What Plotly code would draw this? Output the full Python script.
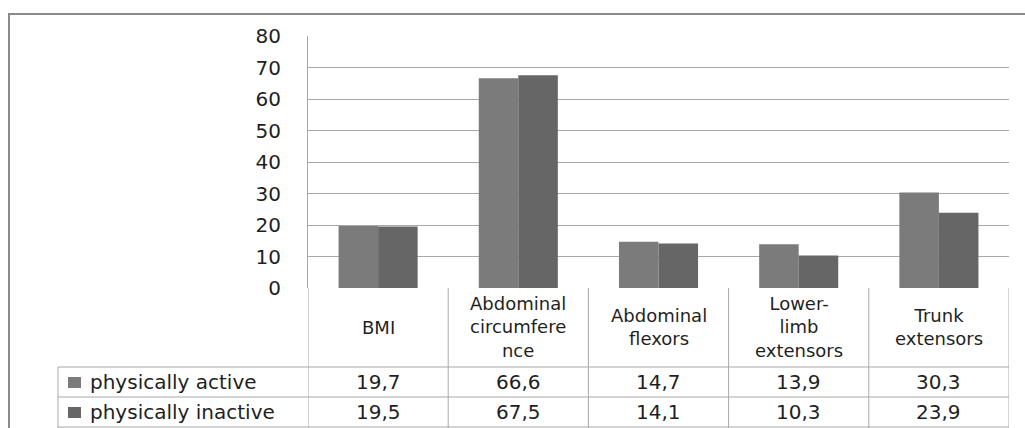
import plotly.graph_objects as go

categories = ["BMI", "Abdominal<br>circumfere<br>nce", "Abdominal<br>flexors", "Lower-<br>limb<br>extensors", "Trunk<br>extensors"]
series_names = ["physically active", "physically inactive"]
active = [19.7, 66.6, 14.7, 13.9, 30.3]
inactive = [19.5, 67.5, 14.1, 10.3, 23.9]
active_labels = ["19,7", "66,6", "14,7", "13,9", "30,3"]
inactive_labels = ["19,5", "67,5", "14,1", "10,3", "23,9"]
y_ticks = [0, 10, 20, 30, 40, 50, 60, 70, 80]

W, H = 1025, 428
colors = ["#7b7b7b", "#666666"]
FONT = "DejaVu Sans"
TXT = "#1f1f1f"
GRID = "#a8a8a8"
FS = 18


def px(x):
    return x / W


def py(y):
    return 1 - y / H


xs = list(range(len(categories)))

fig = go.Figure()
for name, vals, col in zip(series_names, [active, inactive], colors):
    fig.add_trace(go.Bar(x=xs, y=vals, name=name, marker=dict(color=col, line=dict(width=0)),
                         showlegend=False, hoverinfo="skip"))

fig.update_layout(
    width=W, height=H,
    margin=dict(l=0, r=0, t=0, b=0, autoexpand=False),
    paper_bgcolor="white", plot_bgcolor="white",
    barmode="group", bargap=0.436, bargroupgap=0,
    showlegend=False,
    font=dict(family=FONT, size=FS, color=TXT),
    xaxis=dict(domain=[px(308), px(1009)], range=[-0.5, len(categories) - 0.5],
               showticklabels=False, showgrid=False, zeroline=False, showline=False, fixedrange=True),
    yaxis=dict(domain=[py(288), py(36)], range=[0, 80], tickvals=y_ticks,
               ticktext=[str(v) for v in y_ticks], showgrid=True, gridcolor=GRID, gridwidth=1,
               zeroline=False, showline=True, linecolor=GRID, linewidth=1, automargin=False,
               ticks="", ticklabelstandoff=22, tickfont=dict(family=FONT, size=20, color=TXT)),
)

shapes = []
# outer frame
shapes.append(dict(type="rect", xref="paper", yref="paper", x0=px(9), x1=px(1040), y0=py(450), y1=py(14),
                   line=dict(color="#8a8a8a", width=2), fillcolor="rgba(0,0,0,0)"))
# table vertical lines at category boundaries
for i in range(len(categories) + 1):
    shapes.append(dict(type="line", xref="x", yref="paper", x0=i - 0.5, x1=i - 0.5, y0=py(288), y1=py(430),
                       line=dict(color=GRID, width=1)))
# row header left border
shapes.append(dict(type="line", xref="paper", yref="paper", x0=px(58), x1=px(58), y0=py(367), y1=py(430),
                   line=dict(color=GRID, width=1)))
# horizontal table lines
for yy in [367, 397, 427]:
    shapes.append(dict(type="line", xref="paper", yref="paper", x0=px(58), x1=px(1009), y0=py(yy), y1=py(yy),
                       line=dict(color=GRID, width=1)))
# legend keys
for k, col in enumerate(colors):
    yc = 382 + 30 * k
    shapes.append(dict(type="rect", xref="paper", yref="paper", x0=px(68), x1=px(81), y0=py(yc + 6), y1=py(yc - 5),
                       line=dict(width=0), fillcolor=col))

annotations = []
for i, cat in enumerate(categories):
    annotations.append(dict(x=i, y=py(327), xref="x", yref="paper", text=cat, showarrow=False,
                            xanchor="center", yanchor="middle", font=dict(family=FONT, size=FS, color=TXT)))
    for k, labels in enumerate([active_labels, inactive_labels]):
        annotations.append(dict(x=i, y=py(382 + 30 * k), xref="x", yref="paper", text=labels[i],
                                showarrow=False, xanchor="center", yanchor="middle",
                                font=dict(family=FONT, size=20, color=TXT)))
for k, name in enumerate(series_names):
    annotations.append(dict(x=px(88), y=py(382 + 30 * k), xref="paper", yref="paper", text=name,
                            showarrow=False, xanchor="left", yanchor="middle",
                            font=dict(family=FONT, size=20, color=TXT)))

fig.update_layout(shapes=shapes, annotations=annotations)
fig.write_html("out.html", config={"displayModeBar": False},
               post_script="document.body.style.margin='0';document.body.style.overflow='hidden';")
